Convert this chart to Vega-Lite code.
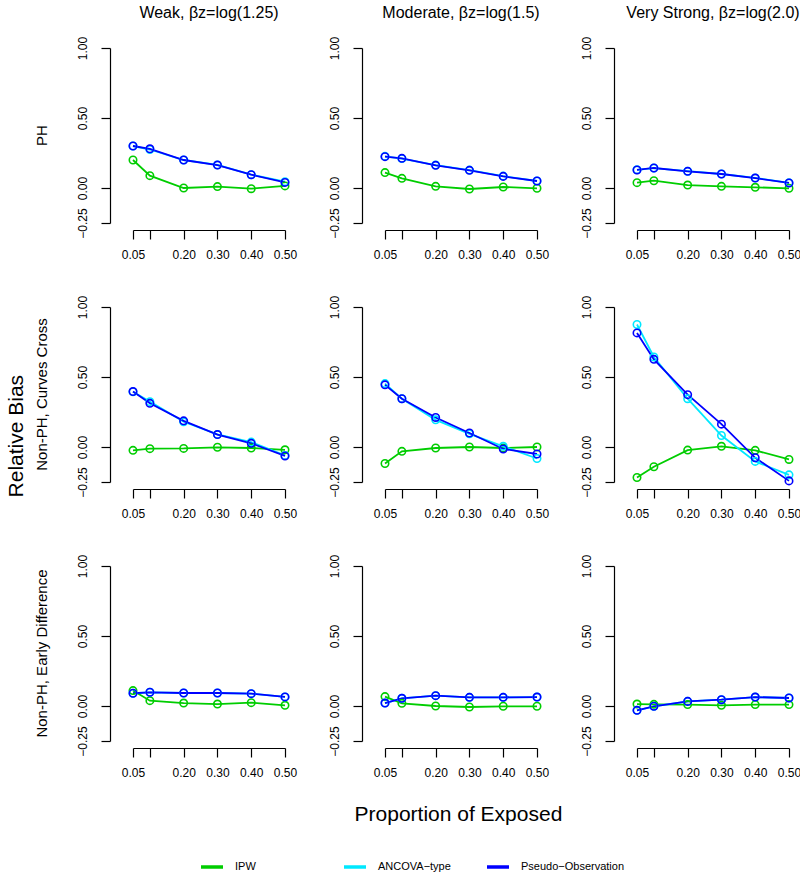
{
  "$schema": "https://vega.github.io/schema/vega-lite/v6.json",
  "background": "white",
  "padding": 5,
  "config": {
    "font": "Liberation Sans",
    "view": {"stroke": null},
    "axis": {"grid": false, "domainColor": "#000", "tickColor": "#000", "labelColor": "#000", "domainWidth": 1.2, "tickWidth": 1.2, "tickSize": 9, "labelFontSize": 12, "labelFont": "Liberation Sans", "title": null}
  },
  "data": {"values": [
    {"r":1,"c":1,"m":"IPW","x":0.05,"y":0.20},{"r":1,"c":1,"m":"IPW","x":0.1,"y":0.088},{"r":1,"c":1,"m":"IPW","x":0.2,"y":0.0},{"r":1,"c":1,"m":"IPW","x":0.3,"y":0.01},{"r":1,"c":1,"m":"IPW","x":0.4,"y":-0.005},{"r":1,"c":1,"m":"IPW","x":0.5,"y":0.015},
    {"r":1,"c":2,"m":"IPW","x":0.05,"y":0.11},{"r":1,"c":2,"m":"IPW","x":0.1,"y":0.069},{"r":1,"c":2,"m":"IPW","x":0.2,"y":0.012},{"r":1,"c":2,"m":"IPW","x":0.3,"y":-0.007},{"r":1,"c":2,"m":"IPW","x":0.4,"y":0.007},{"r":1,"c":2,"m":"IPW","x":0.5,"y":-0.002},
    {"r":1,"c":3,"m":"IPW","x":0.05,"y":0.038},{"r":1,"c":3,"m":"IPW","x":0.1,"y":0.052},{"r":1,"c":3,"m":"IPW","x":0.2,"y":0.021},{"r":1,"c":3,"m":"IPW","x":0.3,"y":0.012},{"r":1,"c":3,"m":"IPW","x":0.4,"y":0.005},{"r":1,"c":3,"m":"IPW","x":0.5,"y":-0.002},
    {"r":2,"c":1,"m":"IPW","x":0.05,"y":-0.024},{"r":2,"c":1,"m":"IPW","x":0.1,"y":-0.012},{"r":2,"c":1,"m":"IPW","x":0.2,"y":-0.01},{"r":2,"c":1,"m":"IPW","x":0.3,"y":-0.002},{"r":2,"c":1,"m":"IPW","x":0.4,"y":-0.007},{"r":2,"c":1,"m":"IPW","x":0.5,"y":-0.02},
    {"r":2,"c":2,"m":"IPW","x":0.05,"y":-0.118},{"r":2,"c":2,"m":"IPW","x":0.1,"y":-0.031},{"r":2,"c":2,"m":"IPW","x":0.2,"y":-0.007},{"r":2,"c":2,"m":"IPW","x":0.3,"y":0.0},{"r":2,"c":2,"m":"IPW","x":0.4,"y":-0.007},{"r":2,"c":2,"m":"IPW","x":0.5,"y":0.0},
    {"r":2,"c":3,"m":"IPW","x":0.05,"y":-0.218},{"r":2,"c":3,"m":"IPW","x":0.1,"y":-0.141},{"r":2,"c":3,"m":"IPW","x":0.2,"y":-0.022},{"r":2,"c":3,"m":"IPW","x":0.3,"y":0.005},{"r":2,"c":3,"m":"IPW","x":0.4,"y":-0.024},{"r":2,"c":3,"m":"IPW","x":0.5,"y":-0.089},
    {"r":3,"c":1,"m":"IPW","x":0.05,"y":0.11},{"r":3,"c":1,"m":"IPW","x":0.1,"y":0.038},{"r":3,"c":1,"m":"IPW","x":0.2,"y":0.021},{"r":3,"c":1,"m":"IPW","x":0.3,"y":0.014},{"r":3,"c":1,"m":"IPW","x":0.4,"y":0.024},{"r":3,"c":1,"m":"IPW","x":0.5,"y":0.005},
    {"r":3,"c":2,"m":"IPW","x":0.05,"y":0.067},{"r":3,"c":2,"m":"IPW","x":0.1,"y":0.019},{"r":3,"c":2,"m":"IPW","x":0.2,"y":0.0},{"r":3,"c":2,"m":"IPW","x":0.3,"y":-0.007},{"r":3,"c":2,"m":"IPW","x":0.4,"y":-0.002},{"r":3,"c":2,"m":"IPW","x":0.5,"y":-0.002},
    {"r":3,"c":3,"m":"IPW","x":0.05,"y":0.014},{"r":3,"c":3,"m":"IPW","x":0.1,"y":0.012},{"r":3,"c":3,"m":"IPW","x":0.2,"y":0.01},{"r":3,"c":3,"m":"IPW","x":0.3,"y":0.005},{"r":3,"c":3,"m":"IPW","x":0.4,"y":0.01},{"r":3,"c":3,"m":"IPW","x":0.5,"y":0.01},

    {"r":1,"c":1,"m":"ANCOVA-type","x":0.05,"y":0.30},{"r":1,"c":1,"m":"ANCOVA-type","x":0.1,"y":0.275},{"r":1,"c":1,"m":"ANCOVA-type","x":0.2,"y":0.20},{"r":1,"c":1,"m":"ANCOVA-type","x":0.3,"y":0.165},{"r":1,"c":1,"m":"ANCOVA-type","x":0.4,"y":0.095},{"r":1,"c":1,"m":"ANCOVA-type","x":0.5,"y":0.045},
    {"r":1,"c":2,"m":"ANCOVA-type","x":0.05,"y":0.226},{"r":1,"c":2,"m":"ANCOVA-type","x":0.1,"y":0.21},{"r":1,"c":2,"m":"ANCOVA-type","x":0.2,"y":0.164},{"r":1,"c":2,"m":"ANCOVA-type","x":0.3,"y":0.128},{"r":1,"c":2,"m":"ANCOVA-type","x":0.4,"y":0.085},{"r":1,"c":2,"m":"ANCOVA-type","x":0.5,"y":0.05},
    {"r":1,"c":3,"m":"ANCOVA-type","x":0.05,"y":0.13},{"r":1,"c":3,"m":"ANCOVA-type","x":0.1,"y":0.142},{"r":1,"c":3,"m":"ANCOVA-type","x":0.2,"y":0.12},{"r":1,"c":3,"m":"ANCOVA-type","x":0.3,"y":0.10},{"r":1,"c":3,"m":"ANCOVA-type","x":0.4,"y":0.072},{"r":1,"c":3,"m":"ANCOVA-type","x":0.5,"y":0.037},
    {"r":2,"c":1,"m":"ANCOVA-type","x":0.05,"y":0.395},{"r":2,"c":1,"m":"ANCOVA-type","x":0.1,"y":0.324},{"r":2,"c":1,"m":"ANCOVA-type","x":0.2,"y":0.18},{"r":2,"c":1,"m":"ANCOVA-type","x":0.3,"y":0.09},{"r":2,"c":1,"m":"ANCOVA-type","x":0.4,"y":0.035},{"r":2,"c":1,"m":"ANCOVA-type","x":0.5,"y":-0.06},
    {"r":2,"c":2,"m":"ANCOVA-type","x":0.05,"y":0.453},{"r":2,"c":2,"m":"ANCOVA-type","x":0.1,"y":0.345},{"r":2,"c":2,"m":"ANCOVA-type","x":0.2,"y":0.194},{"r":2,"c":2,"m":"ANCOVA-type","x":0.3,"y":0.094},{"r":2,"c":2,"m":"ANCOVA-type","x":0.4,"y":0.005},{"r":2,"c":2,"m":"ANCOVA-type","x":0.5,"y":-0.082},
    {"r":2,"c":3,"m":"ANCOVA-type","x":0.05,"y":0.875},{"r":2,"c":3,"m":"ANCOVA-type","x":0.1,"y":0.643},{"r":2,"c":3,"m":"ANCOVA-type","x":0.2,"y":0.345},{"r":2,"c":3,"m":"ANCOVA-type","x":0.3,"y":0.082},{"r":2,"c":3,"m":"ANCOVA-type","x":0.4,"y":-0.103},{"r":2,"c":3,"m":"ANCOVA-type","x":0.5,"y":-0.199},
    {"r":3,"c":1,"m":"ANCOVA-type","x":0.05,"y":0.091},{"r":3,"c":1,"m":"ANCOVA-type","x":0.1,"y":0.098},{"r":3,"c":1,"m":"ANCOVA-type","x":0.2,"y":0.093},{"r":3,"c":1,"m":"ANCOVA-type","x":0.3,"y":0.093},{"r":3,"c":1,"m":"ANCOVA-type","x":0.4,"y":0.088},{"r":3,"c":1,"m":"ANCOVA-type","x":0.5,"y":0.065},
    {"r":3,"c":2,"m":"ANCOVA-type","x":0.05,"y":0.021},{"r":3,"c":2,"m":"ANCOVA-type","x":0.1,"y":0.055},{"r":3,"c":2,"m":"ANCOVA-type","x":0.2,"y":0.074},{"r":3,"c":2,"m":"ANCOVA-type","x":0.3,"y":0.062},{"r":3,"c":2,"m":"ANCOVA-type","x":0.4,"y":0.062},{"r":3,"c":2,"m":"ANCOVA-type","x":0.5,"y":0.064},
    {"r":3,"c":3,"m":"ANCOVA-type","x":0.05,"y":-0.031},{"r":3,"c":3,"m":"ANCOVA-type","x":0.1,"y":-0.002},{"r":3,"c":3,"m":"ANCOVA-type","x":0.2,"y":0.033},{"r":3,"c":3,"m":"ANCOVA-type","x":0.3,"y":0.045},{"r":3,"c":3,"m":"ANCOVA-type","x":0.4,"y":0.064},{"r":3,"c":3,"m":"ANCOVA-type","x":0.5,"y":0.057},

    {"r":1,"c":1,"m":"Pseudo-Observation","x":0.05,"y":0.30},{"r":1,"c":1,"m":"Pseudo-Observation","x":0.1,"y":0.28},{"r":1,"c":1,"m":"Pseudo-Observation","x":0.2,"y":0.20},{"r":1,"c":1,"m":"Pseudo-Observation","x":0.3,"y":0.164},{"r":1,"c":1,"m":"Pseudo-Observation","x":0.4,"y":0.095},{"r":1,"c":1,"m":"Pseudo-Observation","x":0.5,"y":0.04},
    {"r":1,"c":2,"m":"Pseudo-Observation","x":0.05,"y":0.224},{"r":1,"c":2,"m":"Pseudo-Observation","x":0.1,"y":0.212},{"r":1,"c":2,"m":"Pseudo-Observation","x":0.2,"y":0.162},{"r":1,"c":2,"m":"Pseudo-Observation","x":0.3,"y":0.126},{"r":1,"c":2,"m":"Pseudo-Observation","x":0.4,"y":0.083},{"r":1,"c":2,"m":"Pseudo-Observation","x":0.5,"y":0.05},
    {"r":1,"c":3,"m":"Pseudo-Observation","x":0.05,"y":0.129},{"r":1,"c":3,"m":"Pseudo-Observation","x":0.1,"y":0.143},{"r":1,"c":3,"m":"Pseudo-Observation","x":0.2,"y":0.119},{"r":1,"c":3,"m":"Pseudo-Observation","x":0.3,"y":0.10},{"r":1,"c":3,"m":"Pseudo-Observation","x":0.4,"y":0.071},{"r":1,"c":3,"m":"Pseudo-Observation","x":0.5,"y":0.036},
    {"r":2,"c":1,"m":"Pseudo-Observation","x":0.05,"y":0.396},{"r":2,"c":1,"m":"Pseudo-Observation","x":0.1,"y":0.312},{"r":2,"c":1,"m":"Pseudo-Observation","x":0.2,"y":0.187},{"r":2,"c":1,"m":"Pseudo-Observation","x":0.3,"y":0.089},{"r":2,"c":1,"m":"Pseudo-Observation","x":0.4,"y":0.026},{"r":2,"c":1,"m":"Pseudo-Observation","x":0.5,"y":-0.064},
    {"r":2,"c":2,"m":"Pseudo-Observation","x":0.05,"y":0.444},{"r":2,"c":2,"m":"Pseudo-Observation","x":0.1,"y":0.345},{"r":2,"c":2,"m":"Pseudo-Observation","x":0.2,"y":0.211},{"r":2,"c":2,"m":"Pseudo-Observation","x":0.3,"y":0.10},{"r":2,"c":2,"m":"Pseudo-Observation","x":0.4,"y":-0.014},{"r":2,"c":2,"m":"Pseudo-Observation","x":0.5,"y":-0.05},
    {"r":2,"c":3,"m":"Pseudo-Observation","x":0.05,"y":0.815},{"r":2,"c":3,"m":"Pseudo-Observation","x":0.1,"y":0.626},{"r":2,"c":3,"m":"Pseudo-Observation","x":0.2,"y":0.374},{"r":2,"c":3,"m":"Pseudo-Observation","x":0.3,"y":0.163},{"r":2,"c":3,"m":"Pseudo-Observation","x":0.4,"y":-0.077},{"r":2,"c":3,"m":"Pseudo-Observation","x":0.5,"y":-0.242},
    {"r":3,"c":1,"m":"Pseudo-Observation","x":0.05,"y":0.091},{"r":3,"c":1,"m":"Pseudo-Observation","x":0.1,"y":0.098},{"r":3,"c":1,"m":"Pseudo-Observation","x":0.2,"y":0.093},{"r":3,"c":1,"m":"Pseudo-Observation","x":0.3,"y":0.093},{"r":3,"c":1,"m":"Pseudo-Observation","x":0.4,"y":0.088},{"r":3,"c":1,"m":"Pseudo-Observation","x":0.5,"y":0.065},
    {"r":3,"c":2,"m":"Pseudo-Observation","x":0.05,"y":0.021},{"r":3,"c":2,"m":"Pseudo-Observation","x":0.1,"y":0.055},{"r":3,"c":2,"m":"Pseudo-Observation","x":0.2,"y":0.074},{"r":3,"c":2,"m":"Pseudo-Observation","x":0.3,"y":0.062},{"r":3,"c":2,"m":"Pseudo-Observation","x":0.4,"y":0.062},{"r":3,"c":2,"m":"Pseudo-Observation","x":0.5,"y":0.064},
    {"r":3,"c":3,"m":"Pseudo-Observation","x":0.05,"y":-0.031},{"r":3,"c":3,"m":"Pseudo-Observation","x":0.1,"y":-0.002},{"r":3,"c":3,"m":"Pseudo-Observation","x":0.2,"y":0.033},{"r":3,"c":3,"m":"Pseudo-Observation","x":0.3,"y":0.045},{"r":3,"c":3,"m":"Pseudo-Observation","x":0.4,"y":0.064},{"r":3,"c":3,"m":"Pseudo-Observation","x":0.5,"y":0.057}
  ]},
  "bounds": "flush",
  "spacing": {"row": 84, "column": 100},
  "facet": {
    "row": {"field": "r", "type": "ordinal", "title": "Relative Bias\u00a0\u00a0\u00a0\u00a0\u00a0\u00a0\u00a0\u00a0\u00a0\u00a0\u200b",
      "header": {"labelExpr": "datum.value == 1 ? 'PH' : datum.value == 2 ? 'Non-PH, Curves Cross' : 'Non-PH, Early Difference'",
        "labelAngle": -90, "labelAlign": "center", "labelFontSize": 15, "labelFont": "Liberation Sans", "labelColor": "#000", "labelPadding": 76,
        "titleFontSize": 21, "titleFont": "Liberation Sans", "titleFontWeight": "normal", "titleColor": "#000", "titlePadding": -3}},
    "column": {"field": "c", "type": "ordinal", "title": "\u200b\u00a0\u00a0\u00a0\u00a0\u00a0\u00a0\u00a0Proportion of Exposed",
      "header": {"labelExpr": "datum.value == 1 ? 'Weak, βz=log(1.25)' : datum.value == 2 ? 'Moderate, βz=log(1.5)' : 'Very Strong, βz=log(2.0)'",
        "labelOrient": "top", "titleOrient": "bottom", "labelFontSize": 16, "labelFont": "Liberation Sans", "labelColor": "#000", "labelPadding": 27,
        "titleFontSize": 21, "titleFont": "Liberation Sans", "titleFontWeight": "normal", "titleColor": "#000", "titlePadding": 53}}
  },
  "resolve": {"axis": {"x": "independent", "y": "independent"}},
  "spec": {
    "width": 152,
    "height": 175,
    "mark": {"type": "line", "strokeWidth": 1.8, "clip": false, "point": {"filled": false, "size": 55, "strokeWidth": 1.6}},
    "encoding": {
      "x": {"field": "x", "type": "quantitative", "scale": {"domain": [0.05, 0.5], "nice": false, "zero": false},
        "axis": {"values": [0.05, 0.1, 0.2, 0.3, 0.4, 0.5], "labelExpr": "datum.value == 0.1 ? '' : format(datum.value, '.2f')", "offset": 7, "labelPadding": 10, "labelFlush": false, "labelOverlap": false}},
      "y": {"field": "y", "type": "quantitative", "scale": {"domain": [-0.25, 1], "nice": false, "zero": false},
        "axis": {"values": [-0.25, 0, 0.5, 1], "format": ".2f", "offset": 23, "labelAngle": -90, "labelAlign": "center", "labelBaseline": "bottom", "labelPadding": 12, "labelFlush": false, "labelOverlap": false}},
      "color": {"field": "m", "type": "nominal", "sort": ["IPW", "ANCOVA-type", "Pseudo-Observation"],
        "scale": {"domain": ["IPW", "ANCOVA-type", "Pseudo-Observation"], "range": ["#00CD00", "#00E8FF", "#0000FF"]},
        "legend": {"title": null, "orient": "none", "legendX": 66, "legendY": 806, "direction": "horizontal", "symbolType": "stroke", "symbolStrokeWidth": 3.5, "symbolSize": 484, "labelFontSize": 11, "labelFont": "Liberation Sans", "labelColor": "#000", "labelExpr": "replace(datum.label, '-', '−')", "columns": 3, "gridAlign": "all", "columnPadding": -2, "labelOffset": 10}}
    }
  }
}
